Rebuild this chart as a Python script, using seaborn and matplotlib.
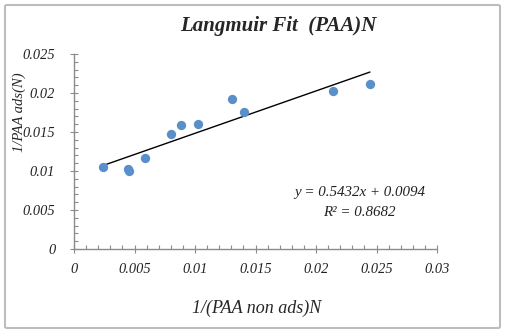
import numpy as np
import pandas as pd
import matplotlib
matplotlib.use("Agg")
import matplotlib.pyplot as plt
import seaborn as sns
from matplotlib.patches import FancyBboxPatch
from matplotlib.ticker import MultipleLocator

x_vals = [0.00237, 0.00444, 0.00452, 0.00587, 0.00802, 0.00885, 0.01023, 0.01304, 0.01404, 0.0214, 0.02446]
y_vals = [0.01051, 0.01026, 0.0100, 0.01167, 0.01474, 0.0159, 0.01608, 0.01923, 0.01756, 0.02026, 0.02115]
slope = 0.5432
intercept = 0.0094
x_ticks = [0, 0.005, 0.01, 0.015, 0.02, 0.025, 0.03]
x_tick_labels = ["0", "0.005", "0.01", "0.015", "0.02", "0.025", "0.03"]
y_ticks = [0, 0.005, 0.01, 0.015, 0.02, 0.025]
y_tick_labels = ["0", "0.005", "0.01", "0.015", "0.02", "0.025"]

sns.set_theme(style="white")
plt.rcParams['font.family'] = ['Liberation Serif', 'DejaVu Serif']

W, H = 505, 333
fig = plt.figure(figsize=(W / 100, H / 100), dpi=100)
ax = fig.add_axes([74 / W, 1 - 249 / H, (437 - 74) / W, (249 - 54) / H])

df = pd.DataFrame({"x": x_vals, "y": y_vals})
sns.scatterplot(data=df, x="x", y="y", ax=ax, color="#5b8fc9", s=45, edgecolor="#5b8fc9", linewidth=0, zorder=3)

xl = np.array([min(x_vals), max(x_vals)])
line_df = pd.DataFrame({"x": xl, "y": slope * xl + intercept})
sns.lineplot(data=line_df, x="x", y="y", ax=ax, color="black", linewidth=1.0, zorder=2)

ax.set_xlim(0, 0.03)
ax.set_ylim(0, 0.025)
ax.set_xticks(x_ticks)
ax.set_xticklabels(x_tick_labels)
ax.set_yticks(y_ticks)
ax.set_yticklabels(y_tick_labels)
ax.xaxis.set_minor_locator(MultipleLocator(0.001))
ax.yaxis.set_minor_locator(MultipleLocator(0.001))

for s in ["top", "right"]:
    ax.spines[s].set_visible(False)
for s in ["left", "bottom"]:
    ax.spines[s].set_color("#8c8c8c")
    ax.spines[s].set_linewidth(1.0)

ax.tick_params(axis="both", which="both", bottom=True, left=True, top=False, right=False)
ax.tick_params(axis="both", which="major", direction="inout", length=6, width=0.8,
               color="#8c8c8c", labelsize=10.4)
ax.tick_params(axis="both", which="minor", direction="in", length=3, width=0.8,
               color="#8c8c8c")
ax.tick_params(axis="x", which="major", pad=7)
ax.tick_params(axis="y", which="major", pad=10.5)
for lab in ax.get_xticklabels() + ax.get_yticklabels():
    lab.set_fontstyle("italic")
    lab.set_color("#222222")

ax.set_xlabel("")
ax.set_ylabel("")
fig.text(257 / W, 1 - 308 / H, "1/(PAA non ads)N", ha="center", va="center",
         fontsize=13, fontstyle="italic")
fig.text(19 / W, 1 - 112 / H, "1/PAA ads(N)", ha="center", va="center",
         fontsize=10.5, fontstyle="italic", rotation=90)
fig.text(278 / W, 1 - 26 / H, "Langmuir Fit  (PAA)N", ha="center", va="center",
         fontsize=15, fontstyle="italic", fontweight="bold")

ax.text(0.0236, 0.0073, "y = 0.5432x + 0.0094", ha="center", va="center",
        fontsize=10.8, fontstyle="italic", color="#222222")
ax.text(0.0236, 0.0047, "R² = 0.8682", ha="center", va="center",
        fontsize=10.8, fontstyle="italic", color="#222222")

border = FancyBboxPatch((5 / W, 5 / H), (500 - 5) / W, (328 - 5) / H,
                        boxstyle="round,pad=0,rounding_size=0.004",
                        transform=fig.transFigure, fill=False,
                        edgecolor="#bdbdbd", linewidth=1.5)
fig.patches.append(border)

fig.savefig("out.png", dpi=100)
